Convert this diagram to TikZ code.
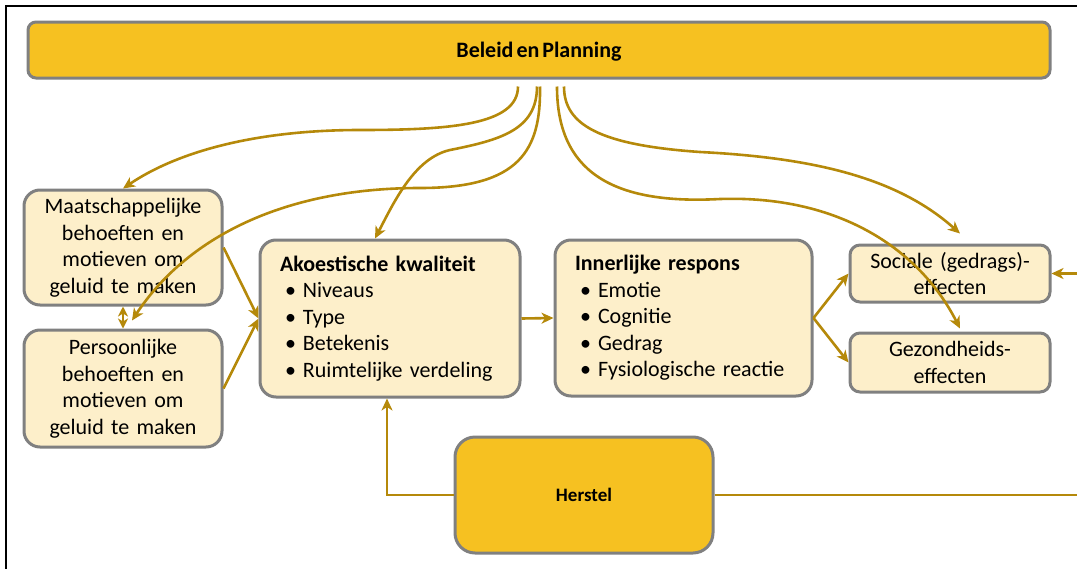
\documentclass[tikz,border=0pt]{standalone}
\usepackage{fontspec}
\setmainfont[WordSpace=0.6]{Carlito}
\usetikzlibrary{arrows.meta}
\definecolor{goud}{HTML}{F6C121}
\definecolor{room}{HTML}{FDEFCA}
\definecolor{rand}{HTML}{808080}
\definecolor{pijl}{HTML}{B5890A}
\tikzset{
	blok/.style={draw=rand,line width=3pt,fill=room,rounded corners=16pt,align=center,inner sep=0pt,
		font=\fontsize{22}{26.5}\selectfont},
	lijst/.style={blok,align=left,text width=#1},
	kop/.style={draw=rand,line width=3pt,fill=goud,font=\fontsize{22}{26}\selectfont\bfseries},
	verb/.style={draw=pijl,line width=2.6pt,-{Stealth[length=12pt,width=11pt,inset=3.5pt]}},
	lijn/.style={draw=pijl,line width=2.6pt}
}
\newcommand\punt[1]{\\\hspace*{5pt}\makebox[18pt][l]{\textbullet}#1}
\begin{document}
\begin{tikzpicture}[x=1pt,y=-1pt]
				\useasboundingbox (0,0) rectangle (1077,568);
				\draw[line width=2pt] (6,620) -- (6,6) -- (1120,6);
				\node[kop,rounded corners=8pt,minimum width=1022pt,minimum height=56pt] (plan) at (539,50) {\raisebox{-7pt}[0pt][0pt]{Beleid en Planning}};
				\node[blok,minimum width=198pt,minimum height=115pt,text width=190pt] (maat) at (123,247.5) {Maatschappelijke\\behoeften en\\motieven om\\geluid te maken};
				\node[blok,minimum width=198pt,minimum height=117pt,text width=190pt] (pers) at (123,388.5) {Persoonlijke\\behoeften en\\motieven om\\geluid te maken};
				\node[lijst=220pt,minimum width=260pt,minimum height=157pt] (akoe) at (390,318.5) {\textbf{Akoestische kwaliteit}\punt{Niveaus}\punt{Type}\punt{Betekenis}\punt{Ruimtelijke verdeling}};
				\node[lijst=217pt,minimum width=257pt,minimum height=156pt] (innr) at (683.5,318) {\textbf{Innerlijke respons}\punt{Emotie}\punt{Cognitie}\punt{Gedrag}\punt{Fysiologische reactie}};
				\node[blok,rounded corners=10pt,minimum width=200pt,minimum height=57pt,text width=196pt] (soc) at (950,273.5) {Sociale (gedrags)-\\effecten};
				\node[blok,rounded corners=10pt,minimum width=200pt,minimum height=59pt,text width=196pt] (gez) at (950,362.5) {Gezondheids-\\effecten};
				\node[kop,rounded corners=20pt,minimum width=258pt,minimum height=116pt,font=\fontsize{19}{22}\selectfont\bfseries] (herst) at (584,495) {Herstel};
				\coordinate (buiten) at (1100,495);
				\draw[verb] ([xshift=-21pt,yshift=-7pt]plan.south) .. controls (518,125) and (450,130) .. (360,130) .. controls (260,130) and (180,150) .. (maat.north);
				\draw[verb] ([xshift=-2pt,yshift=-7pt]plan.south) .. controls (537,130) and (500,140) .. (450,150) .. controls (415,158) and (395,200) .. ([xshift=-15pt]akoe.north);
				\draw[verb] ([xshift=1pt,yshift=-7pt]plan.south) .. controls (541,150) and (520,188) .. (420,188) .. controls (280,188) and (185,240) .. ([xshift=9pt,yshift=8pt]pers.north);
				\draw[verb] ([xshift=25pt,yshift=-7pt]plan.south) .. controls (564,125) and (600,145) .. (700,152) .. controls (820,158) and (900,180) .. ([xshift=10pt,yshift=10pt]soc.north);
				\draw[verb] ([xshift=18pt,yshift=-7pt]plan.south) .. controls (557,170) and (610,205) .. (720,199) .. controls (840,195) and (920,250) .. ([xshift=10pt,yshift=3pt]gez.north);
				\draw[verb,{Stealth[length=10pt,width=10pt,inset=3pt]}-{Stealth[length=10pt,width=10pt,inset=3pt]}] (maat.south) -- (pers.north);
				\draw[verb] (maat.east) -- (akoe.west);
				\draw[verb] (pers.east) -- (akoe.west);
				\draw[verb] (akoe.east) -- (innr.west);
				\draw[verb] (innr.east) -- (soc.west);
				\draw[verb] (innr.east) -- (gez.west);
				\draw[verb] (herst.west) -| ([xshift=-3pt]akoe.south);
				\draw[lijn] (herst.east) -- (buiten);
				\draw[verb] (buiten) |- (soc.east);
\end{tikzpicture}
\end{document}
